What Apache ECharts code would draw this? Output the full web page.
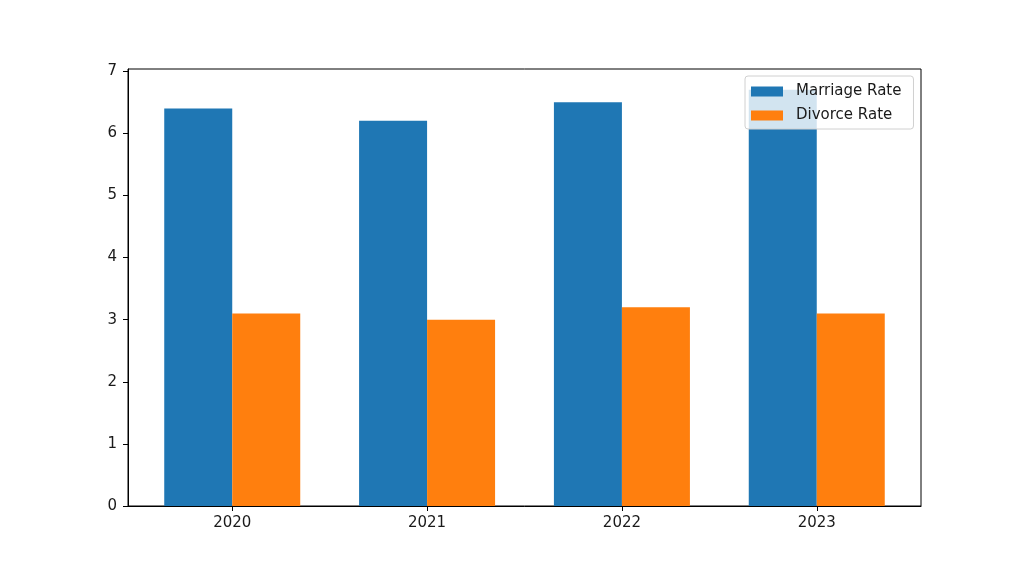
<!DOCTYPE html>
<html>
<head>
<meta charset="utf-8">
<script src="https://cdn.jsdelivr.net/npm/echarts@6/dist/echarts.min.js"></script>
<style>
  html, body { margin: 0; padding: 0; background: #fff; }
  #chart { width: 1024px; height: 569px; }
</style>
</head>
<body>
<div id="chart"></div>
<script>
// data
const years = ["2020", "2021", "2022", "2023"];
const marriageRate = [6.4, 6.2, 6.5, 6.7];
const divorceRate = [3.1, 3.0, 3.2, 3.1];
const yTicks = [0, 1, 2, 3, 4, 5, 6, 7];

const chart = echarts.init(document.getElementById("chart"), null, { renderer: "canvas" });

const font = "DejaVu Sans";
const positions = years.map((y, i) => i); // category positions 0..3 on a value axis

const option = {
  backgroundColor: "#fff",
  animation: false,
  textStyle: { fontFamily: font },
  grid: {
    left: 128,
    right: 1024 - 921,
    top: 69,
    bottom: 569 - 506,
    show: true,
    borderColor: "#000",
    borderWidth: 1
  },
  legend: {
    orient: "vertical",
    left: 745,
    top: 76,
    padding: [7, 12, 5, 6],
    itemWidth: 32,
    itemHeight: 10,
    itemGap: 7,
    backgroundColor: "rgba(255,255,255,0.8)",
    borderColor: "#d0d0d0",
    borderWidth: 1,
    borderRadius: 3,
    textStyle: { fontFamily: font, fontSize: 15, color: "#1a1a1a", padding: [0, 0, 0, 8], lineHeight: 17 },
    data: [
      { name: "Marriage Rate", icon: "rect" },
      { name: "Divorce Rate", icon: "rect" }
    ]
  },
  xAxis: {
    type: "value",
    min: -0.535,
    max: 3.535,
    splitLine: { show: false },
    axisLine: { show: true, onZero: false, lineStyle: { color: "#000", width: 1 } },
    axisTick: { show: true, customValues: positions, length: 5, lineStyle: { color: "#000" } },
    axisLabel: {
      customValues: positions,
      formatter: v => years[Math.round(v)],
      fontFamily: font, fontSize: 15, color: "#1a1a1a", margin: 10
    }
  },
  yAxis: {
    type: "value",
    min: 0,
    max: 7.035,
    splitLine: { show: false },
    axisLine: { show: true, onZero: false, lineStyle: { color: "#000", width: 1 } },
    axisTick: { show: true, customValues: yTicks, length: 5, lineStyle: { color: "#000" } },
    axisLabel: {
      customValues: yTicks,
      formatter: v => String(v),
      fontFamily: font, fontSize: 15, color: "#1a1a1a", margin: 11
    }
  },
  series: [
    {
      name: "Marriage Rate",
      type: "bar",
      data: positions.map((p, i) => [p, marriageRate[i]]),
      barWidth: 68,
      barGap: "0%",
      itemStyle: { color: "#1f77b4" }
    },
    {
      name: "Divorce Rate",
      type: "bar",
      data: positions.map((p, i) => [p, divorceRate[i]]),
      barWidth: 68,
      barGap: "0%",
      itemStyle: { color: "#ff7f0e" }
    }
  ]
};

chart.setOption(option);
</script>
</body>
</html>
